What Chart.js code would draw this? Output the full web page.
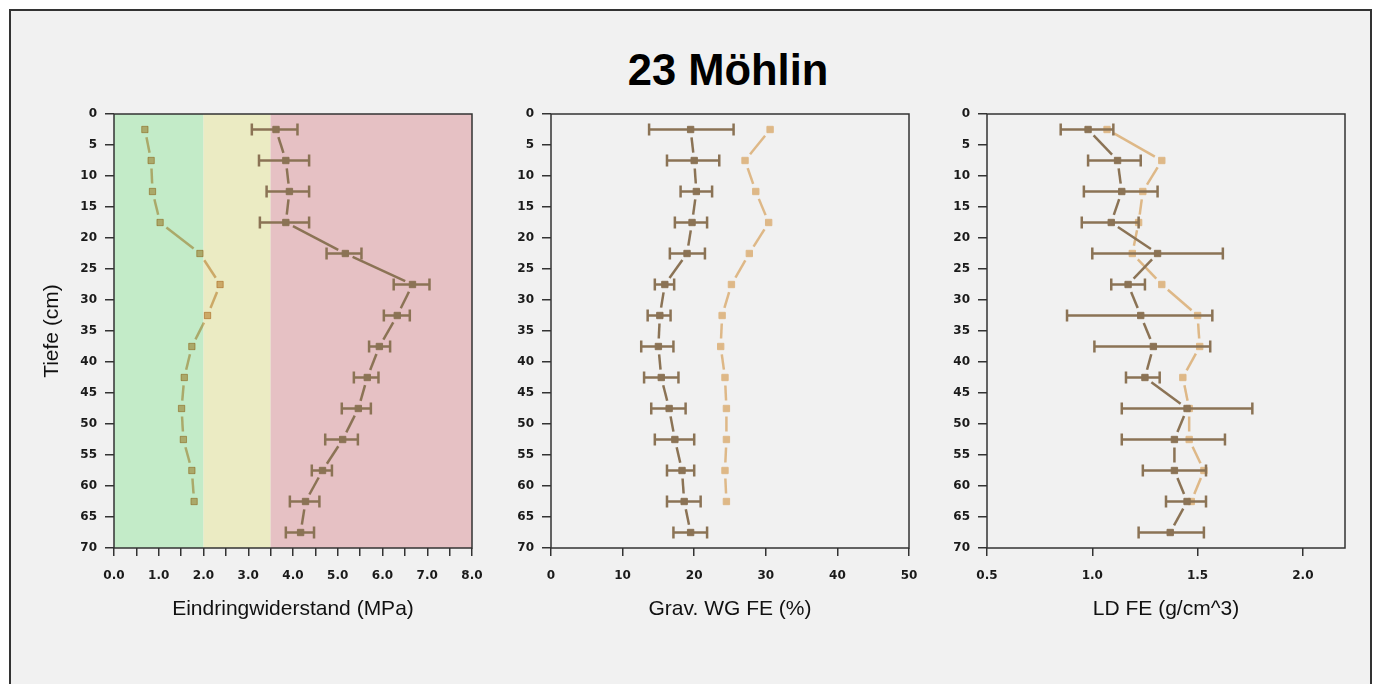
<!DOCTYPE html>
<html>
<head>
<meta charset="utf-8">
<script src="https://cdn.jsdelivr.net/npm/chart.js@4.4.1/dist/chart.umd.min.js"></script>
<style>
  html, body { margin: 0; padding: 0; background: #fff; }
  body { width: 1378px; height: 684px; position: relative; overflow: hidden; }
  #frame { position: absolute; left: 9px; top: 9px; width: 1359px; height: 700px;
           background: #f1f1f1; border: 2px solid #333; }
  #title { position: absolute; left: 428px; width: 600px; top: 46px; text-align: center;
           font: bold 43.5px "Liberation Sans", Arial, sans-serif; color: #000; }
  canvas { position: absolute; top: 100px; }
</style>
</head>
<body>
<div id="frame"></div>
<div id="title">23 Möhlin</div>
<canvas id="c1" width="452" height="531" style="left:34px"></canvas>
<canvas id="c2" width="452" height="531" style="left:471px"></canvas>
<canvas id="c3" width="452" height="531" style="left:907px"></canvas>
<script>
// Tiefenstufen (Mitte jeder 5-cm-Schicht)
const depth = [2.5, 7.5, 12.5, 17.5, 22.5, 27.5, 32.5, 37.5, 42.5, 47.5, 52.5, 57.5, 62.5, 67.5];

// Eindringwiderstand (MPa): Mittelwert, Streuung, Vergleichsprofil
const eindring    = [3.62, 3.84, 3.92, 3.84, 5.17, 6.67, 6.33, 5.93, 5.66, 5.46, 5.11, 4.66, 4.28, 4.17];
const eindringMin = [3.08, 3.24, 3.41, 3.26, 4.75, 6.25, 6.03, 5.70, 5.36, 5.09, 4.72, 4.42, 3.93, 3.84];
const eindringMax = [4.10, 4.36, 4.36, 4.36, 5.53, 7.05, 6.61, 6.17, 5.91, 5.74, 5.45, 4.87, 4.59, 4.47];
const eindringVgl = [0.69, 0.83, 0.86, 1.03, 1.92, 2.37, 2.09, 1.74, 1.57, 1.51, 1.55, 1.74, 1.79, null];

// Gravimetrischer Wassergehalt (%)
const wg    = [19.5, 20.0, 20.3, 19.7, 19.0, 15.9, 15.2, 15.0, 15.4, 16.5, 17.3, 18.3, 18.6, 19.5];
const wgMin = [13.7, 16.2, 18.1, 17.3, 16.6, 14.5, 13.5, 12.6, 13.0, 14.0, 14.5, 16.2, 16.2, 17.1];
const wgMax = [25.5, 23.5, 22.5, 21.8, 21.5, 17.2, 16.7, 17.1, 17.8, 18.8, 20.0, 20.0, 20.9, 21.8];
const wgVgl = [30.6, 27.1, 28.6, 30.4, 27.7, 25.2, 23.9, 23.7, 24.3, 24.5, 24.5, 24.3, 24.5, null];

// Lagerungsdichte (g/cm^3)
const ld    = [0.98, 1.12, 1.14, 1.09, 1.31, 1.17, 1.23, 1.29, 1.25, 1.45, 1.39, 1.39, 1.45, 1.37];
const ldMin = [0.85, 0.98, 0.96, 0.95, 1.00, 1.09, 0.88, 1.01, 1.16, 1.14, 1.14, 1.24, 1.35, 1.22];
const ldMax = [1.10, 1.23, 1.31, 1.22, 1.62, 1.25, 1.57, 1.56, 1.32, 1.76, 1.63, 1.54, 1.54, 1.53];
const ldVgl = [1.07, 1.33, 1.24, 1.22, 1.19, 1.33, 1.50, 1.51, 1.43, 1.46, 1.46, 1.53, 1.47, null];

// Bewertungszonen Eindringwiderstand
const zoneEdges  = [0, 2, 3.5, 8];
const zoneColors = ['#c3ebc8', '#ebebc3', '#e6c1c4'];

const DARK = '#8b7355';
const LIGHT = '#deb887';
const AXIS = '#333';
const GAP = 8;

// line segments stop short of the markers (R type "b")
function gapDash(ctx) {
  const len = Math.hypot(ctx.p1.x - ctx.p0.x, ctx.p1.y - ctx.p0.y);
  return [0, GAP, Math.max(len - 2 * GAP, 0), GAP];
}

function points(vals) {
  const out = [];
  vals.forEach((v, i) => { if (v !== null) out.push({ x: v, y: depth[i] }); });
  return out;
}

function errorBars(lo, hi) {
  return {
    id: 'errorBars',
    beforeDatasetDraw(chart, args) {
      if (args.index !== 0) return;
      const { ctx, scales: { x, y } } = chart;
      ctx.save();
      ctx.strokeStyle = DARK;
      ctx.lineWidth = 2.5;
      lo.forEach((l, i) => {
        const py = y.getPixelForValue(depth[i]);
        const x0 = x.getPixelForValue(l);
        const x1 = x.getPixelForValue(hi[i]);
        ctx.beginPath();
        ctx.moveTo(x0, py); ctx.lineTo(x1, py);
        ctx.moveTo(x0, py - 6); ctx.lineTo(x0, py + 6);
        ctx.moveTo(x1, py - 6); ctx.lineTo(x1, py + 6);
        ctx.stroke();
      });
      ctx.restore();
    }
  };
}

const zones = {
  id: 'zones',
  beforeDatasetsDraw(chart) {
    const { ctx, chartArea: a, scales: { x } } = chart;
    ctx.save();
    zoneColors.forEach((c, i) => {
      const x0 = x.getPixelForValue(zoneEdges[i]);
      const x1 = x.getPixelForValue(zoneEdges[i + 1]);
      ctx.fillStyle = c;
      ctx.fillRect(x0, a.top, x1 - x0, a.bottom - a.top);
    });
    ctx.restore();
  },
  // the comparison profile takes on the zone tint
  beforeDatasetDraw(chart, args) {
    if (args.index === 1) { chart.ctx.save(); chart.ctx.globalCompositeOperation = 'multiply'; }
  },
  afterDatasetDraw(chart, args) {
    if (args.index === 1) chart.ctx.restore();
  }
};

const box = {
  id: 'box',
  afterDraw(chart) {
    const { ctx, chartArea: a } = chart;
    ctx.save();
    ctx.strokeStyle = AXIS;
    ctx.lineWidth = 1.5;
    ctx.strokeRect(a.left, a.top, a.right - a.left, a.bottom - a.top);
    ctx.restore();
  }
};

const tickFont = { family: '"DejaVu Sans", sans-serif', size: 12, weight: 'bold' };
const titleFont = { family: '"Liberation Sans", Arial, sans-serif', size: 21 };

function makePanel(id, cfg) {
  const plugins = [errorBars(cfg.lo, cfg.hi), box];
  if (cfg.zones) plugins.unshift(zones);
  const series = (vals, color) => ({
    data: points(vals),
    showLine: true,
    borderColor: color,
    backgroundColor: color,
    borderWidth: 2.5,
    pointStyle: 'rect',
    pointRadius: 4.5,
    pointBorderWidth: 1,
    segment: { borderDash: gapDash }
  });
  return new Chart(document.getElementById(id), {
    type: 'scatter',
    data: { datasets: [series(cfg.mean, DARK), series(cfg.ref, LIGHT)] },
    options: {
      responsive: false,
      animation: false,
      events: [],
      layout: { padding: { top: 14, right: 14, left: 0, bottom: 0 } },
      plugins: { legend: { display: false }, tooltip: { enabled: false } },
      scales: {
        x: {
          type: 'linear',
          min: cfg.min,
          max: cfg.max,
          afterFit: (s) => { s.height = 83; s.paddingLeft = 0; s.paddingRight = 0; },
          border: { display: false },
          grid: { drawOnChartArea: false, drawTicks: true, tickLength: 8, color: AXIS, lineWidth: 1.5 },
          ticks: {
            stepSize: cfg.step,
            includeBounds: false,
            autoSkip: false,
            maxRotation: 0,
            padding: 13,
            color: '#1a1a1a',
            font: tickFont,
            callback: cfg.label
          },
          title: { display: true, text: cfg.title, color: '#111', font: titleFont, padding: { top: 0, bottom: 9 } }
        },
        y: {
          type: 'linear',
          reverse: true,
          min: 0,
          max: 70,
          afterFit: (s) => { s.width = 80; s.paddingTop = 0; s.paddingBottom = 0; },
          border: { display: false },
          grid: { drawOnChartArea: false, drawTicks: true, tickLength: 9, color: AXIS, lineWidth: 1.5 },
          ticks: { stepSize: 5, autoSkip: false, padding: 8, color: '#1a1a1a', font: tickFont },
          title: { display: !!cfg.yTitle, text: cfg.yTitle || '', color: '#111', font: titleFont, padding: { top: 6, bottom: 0 } }
        }
      }
    },
    plugins
  });
}

makePanel('c1', {
  mean: eindring, lo: eindringMin, hi: eindringMax, ref: eindringVgl,
  min: 0, max: 8, step: 0.5, zones: true,
  label: (v) => (Number.isInteger(v) ? v.toFixed(1) : ''),
  title: 'Eindringwiderstand (MPa)', yTitle: 'Tiefe (cm)'
});

makePanel('c2', {
  mean: wg, lo: wgMin, hi: wgMax, ref: wgVgl,
  min: 0, max: 50, step: 10,
  label: (v) => String(v),
  title: 'Grav. WG FE (%)'
});

makePanel('c3', {
  mean: ld, lo: ldMin, hi: ldMax, ref: ldVgl,
  min: 0.5, max: 2.2, step: 0.5,
  label: (v) => v.toFixed(1),
  title: 'LD FE (g/cm^3)'
});
</script>
</body>
</html>
